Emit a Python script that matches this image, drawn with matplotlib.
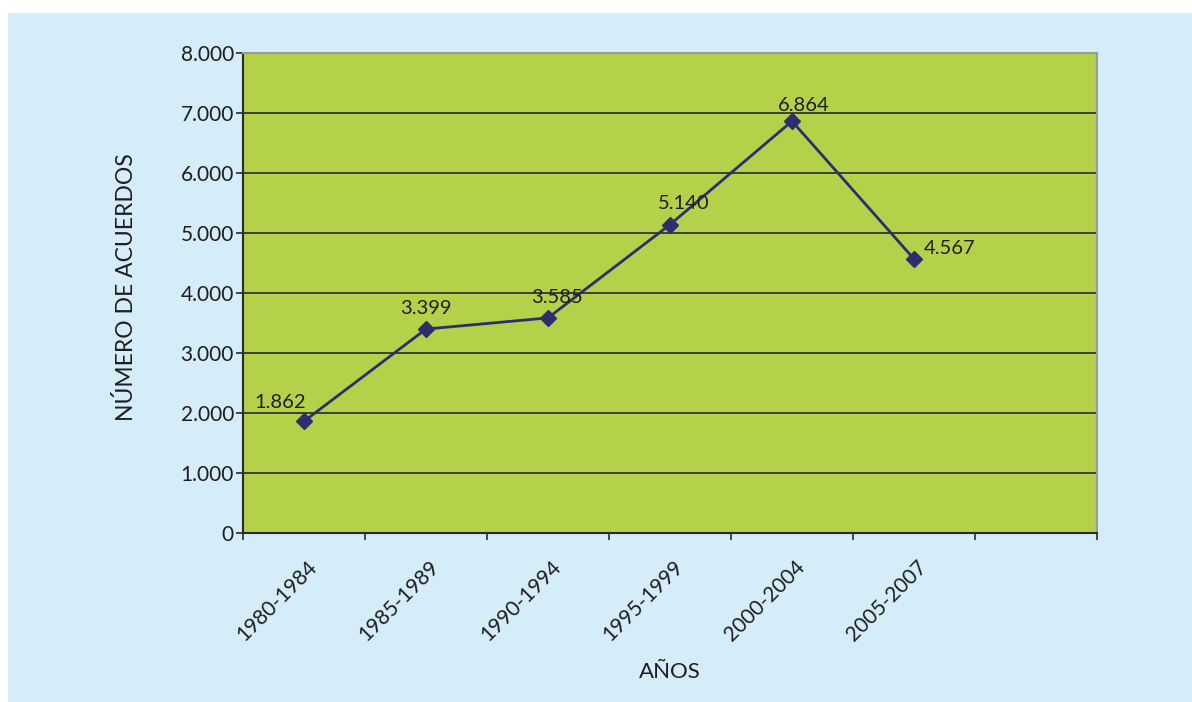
import matplotlib
matplotlib.use("Agg")
import matplotlib.pyplot as plt
from matplotlib.patches import Rectangle
import matplotlib.transforms as mtransforms

plt.rcParams['font.family'] = ['Lato', 'DejaVu Sans']

categories = ["1980-1984", "1985-1989", "1990-1994", "1995-1999", "2000-2004", "2005-2007"]
values = [1862, 3399, 3585, 5140, 6864, 4567]
value_labels = ["1.862", "3.399", "3.585", "5.140", "6.864", "4.567"]
ytick_values = [0, 1000, 2000, 3000, 4000, 5000, 6000, 7000, 8000]
ytick_labels = ["0", "1.000", "2.000", "3.000", "4.000", "5.000", "6.000", "7.000", "8.000"]
n_slots = 7  # one empty slot after the last category

# label offsets in pixels (style)
label_offsets = [(-24, 19), (0, 21), (9, 20), (14, 21), (12, 16), (36, 10)]

BG = "#d5edf9"
GREEN = "#b3d149"
NAVY = "#2c2e70"
TXT = "#1e1e1e"

fig = plt.figure(figsize=(11.92, 7.02), dpi=100)
fig.patch.set_facecolor("white")
fig.patches.append(Rectangle((8/1192, 0), 1 - 8/1192, (702-13)/702,
                             transform=fig.transFigure, facecolor=BG,
                             edgecolor="none", zorder=-10))

ax = fig.add_axes([243/1192, (702-533)/702, (1097-243)/1192, (533-53)/702])
ax.set_facecolor(GREEN)

x = [i + 0.5 for i in range(len(values))]
ax.plot(x, values, color=NAVY, lw=2, marker="D", markersize=8.5,
        markerfacecolor=NAVY, markeredgecolor=NAVY, zorder=5, clip_on=False)

for xi, v, lab, (dx, dy) in zip(x, values, value_labels, label_offsets):
    ax.annotate(lab, (xi, v), xytext=(dx, dy), textcoords="offset pixels",
                ha="center", va="center", fontsize=14.5, color=TXT, zorder=6)

ax.set_xlim(0, n_slots)
ax.set_ylim(0, 8000)
ax.set_yticks(ytick_values)
ax.set_yticklabels(ytick_labels, fontsize=15, color=TXT)
ax.yaxis.grid(True, color="#2a2a2a", lw=1.2)
ax.set_axisbelow(True)

ax.set_xticks(range(n_slots + 1))
ax.set_xticklabels([])
ax.set_xticks(x, minor=True)
ax.set_xticklabels(categories, minor=True, rotation=45, ha="right",
                   va="top", fontsize=15, color=TXT, rotation_mode="default")
ax.tick_params(axis="x", which="minor", length=0, pad=17)
offset = mtransforms.ScaledTranslation(17/100, 0, fig.dpi_scale_trans)
for lbl in ax.xaxis.get_minorticklabels():
    lbl.set_transform(lbl.get_transform() + offset)
ax.tick_params(axis="x", which="major", length=5, width=1.2, color="#2a2a2a", direction="out")
ax.tick_params(axis="y", length=5, width=1.2, color="#2a2a2a", direction="out", pad=1.5)

for s in ["left", "bottom"]:
    ax.spines[s].set_color("#2a2a2a")
    ax.spines[s].set_linewidth(1.5)
for s in ["top", "right"]:
    ax.spines[s].set_color("#9a9a9a")
    ax.spines[s].set_linewidth(1.5)

fig.text(670/1192, 1 - 672/702, "AÑOS", ha="center", va="center", fontsize=16, color=TXT)
fig.text(126/1192, 1 - 287/702, "NÚMERO DE ACUERDOS", ha="center", va="center",
         rotation=90, fontsize=16.5, color=TXT)

fig.savefig("out.png", dpi=100, facecolor=fig.get_facecolor())
